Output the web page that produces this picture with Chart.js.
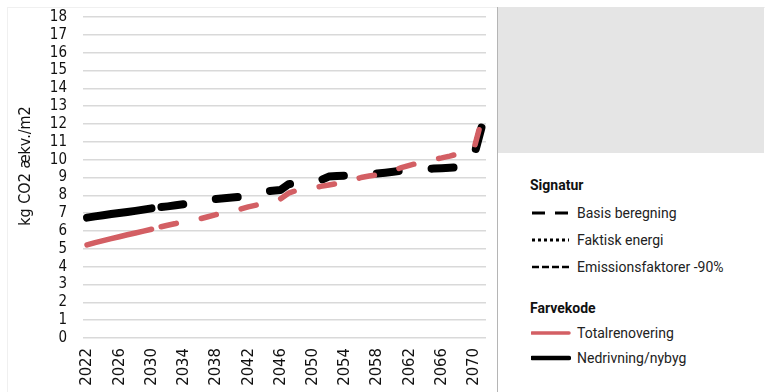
<!DOCTYPE html>
<html>
<head>
<meta charset="utf-8">
<script src="https://cdn.jsdelivr.net/npm/chart.js@4/dist/chart.umd.min.js"></script>
<style>
  body { margin: 0; background: #fff; width: 773px; height: 392px; overflow: hidden; position: relative; font-family: Roboto, sans-serif; }
  #frame { position: absolute; left: 7px; top: 7px; width: 757px; height: 400px; border-top: 1px solid #f0f0f0; border-left: 1px solid #f0f0f0; }
  #chart { position: absolute; left: 0; top: 0; }
  #divider { position: absolute; left: 497px; top: 7px; width: 1px; height: 385px; background: #b5b5b5; }
  #greyBox { position: absolute; left: 498px; top: 7px; width: 266px; height: 146px; background: #e5e5e5; }
  .head { position: absolute; left: 530px; font-size: 14px; font-weight: bold; color: #111; line-height: 16px; }
  .item { position: absolute; left: 577px; font-size: 14px; color: #222; line-height: 16px; }
  .sym { position: absolute; left: 531px; }
</style>
</head>
<body>
<div id="frame"></div>
<canvas id="chart" width="497" height="392"></canvas>
<div id="divider"></div>
<div id="greyBox"></div>

<div class="head" style="top:177px">Signatur</div>
<svg class="sym" style="top:207px" width="40" height="12"><line x1="1" y1="6" x2="38" y2="6" stroke="#000" stroke-width="3" stroke-dasharray="13 10"/></svg>
<div class="item" style="top:205px">Basis beregning</div>
<svg class="sym" style="top:234px" width="40" height="12"><line x1="1" y1="6" x2="38" y2="6" stroke="#000" stroke-width="3" stroke-dasharray="3 3"/></svg>
<div class="item" style="top:232px">Faktisk energi</div>
<svg class="sym" style="top:261px" width="40" height="12"><line x1="1" y1="6" x2="38" y2="6" stroke="#000" stroke-width="2.5" stroke-dasharray="7 3"/></svg>
<div class="item" style="top:259px">Emissionsfaktorer -90%</div>

<div class="head" style="top:300px">Farvekode</div>
<svg class="sym" style="top:327px" width="40" height="12"><line x1="1" y1="6" x2="38" y2="6" stroke="#d35f64" stroke-width="3.5" stroke-linecap="round"/></svg>
<div class="item" style="top:325px">Totalrenovering</div>
<svg class="sym" style="top:352px" width="40" height="12"><line x1="1" y1="6" x2="38" y2="6" stroke="#000" stroke-width="4.5" stroke-linecap="round"/></svg>
<div class="item" style="top:350px">Nedrivning/nybyg</div>

<script>
// years on the category axis
const years = [
  2022, 2023, 2024, 2025, 2026, 2027, 2028, 2029, 2030, 2031,
  2032, 2033, 2034, 2035, 2036, 2037, 2038, 2039, 2040, 2041,
  2042, 2043, 2044, 2045, 2046, 2047, 2048, 2049, 2050, 2051,
  2052, 2053, 2054, 2055, 2056, 2057, 2058, 2059, 2060, 2061,
  2062, 2063, 2064, 2065, 2066, 2067, 2068, 2069, 2070, 2071
];
// only every 4th year gets a label
const labelledYears = [2022, 2026, 2030, 2034, 2038, 2042, 2046, 2050, 2054, 2058, 2062, 2066, 2070];

// kg CO2 ækv./m2, accumulated
const totalrenovering = [
  5.22, 5.35, 5.46, 5.57, 5.68, 5.79, 5.89, 5.99, 6.10, 6.22,
  6.32, 6.42, 6.55, 6.62, 6.68, 6.80, 6.92, 7.04, 7.13, 7.22,
  7.35, 7.45, 7.55, 7.62, 7.80, 8.12, 8.28, 8.36, 8.42, 8.50,
  8.58, 8.66, 8.74, 8.84, 9.00, 9.08, 9.15, 9.25, 9.40, 9.55,
  9.68, 9.80, 9.92, 10.02, 10.10, 10.20, 10.32, 10.43, 10.60, 12.30
];
const nedrivning = [
  6.75, 6.82, 6.88, 6.95, 7.01, 7.07, 7.13, 7.20, 7.27, 7.33,
  7.38, 7.44, 7.50, 7.56, 7.65, 7.74, 7.80, 7.84, 7.88, 7.92,
  7.95, 8.10, 8.22, 8.26, 8.30, 8.62, 8.68, 8.70, 8.72, 8.85,
  9.05, 9.08, 9.10, 9.12, 9.15, 9.18, 9.22, 9.27, 9.32, 9.38,
  9.42, 9.45, 9.48, 9.50, 9.52, 9.55, 9.58, 9.61, 10.20, 11.90
];
const yTicks = [0, 18];

// the first 8 intervals (2022-2030) are drawn solid, the rest dashed
const solidUntil = 8;
const tickFont = "'Liberation Sans Narrow', 'DejaVu Sans Condensed', sans-serif";

function dashedAfter(dash, offset) {
  return {
    borderDash: c => c.p0DataIndex < solidUntil ? [] : dash,
    borderDashOffset: c => c.p0DataIndex < solidUntil ? 0 : offset
  };
}

const yTitle = {
  id: 'yTitle',
  afterDraw(chart) {
    const ctx = chart.ctx;
    ctx.save();
    ctx.translate(26, 166);
    ctx.rotate(-Math.PI / 2);
    ctx.font = "16px " + tickFont;
    ctx.fillStyle = '#111';
    ctx.textAlign = 'center';
    ctx.textBaseline = 'middle';
    ctx.fillText('kg CO2 ækv./m2', 0, 0);
    ctx.restore();
  }
};

new Chart(document.getElementById('chart').getContext('2d'), {
  type: 'line',
  data: {
    labels: years,
    datasets: [
      {
        label: 'Totalrenovering',
        data: totalrenovering,
        borderColor: '#d35f64',
        borderWidth: 5.5,
        borderCapStyle: 'round',
        borderJoinStyle: 'round',
        pointRadius: 0,
        tension: 0,
        segment: dashedAfter([15.5, 25.5], 31)
      },
      {
        label: 'Nedrivning/nybyg',
        data: nedrivning,
        borderColor: '#000',
        borderWidth: 8,
        borderCapStyle: 'round',
        borderJoinStyle: 'round',
        pointRadius: 0,
        tension: 0,
        segment: dashedAfter([22, 33], 45)
      }
    ]
  },
  options: {
    responsive: false,
    animation: false,
    layout: { padding: { top: 17, right: 11, left: 0, bottom: 0 } },
    plugins: { legend: { display: false }, tooltip: { enabled: false } },
    scales: {
      x: {
        offset: true,
        grid: { display: false, drawTicks: false },
        border: { display: false },
        ticks: {
          autoSkip: false,
          minRotation: 90,
          maxRotation: 90,
          padding: 10,
          color: '#111',
          font: { family: tickFont, size: 16.5 },
          callback: function (v, i) {
            const y = years[i];
            return labelledYears.includes(y) ? String(y) : '';
          }
        },
        afterFit(scale) {
          scale.height = 54;
          scale.paddingLeft = 0;
          scale.paddingRight = 0;
        }
      },
      y: {
        min: yTicks[0],
        max: yTicks[1],
        grid: { color: '#d9d9d9', lineWidth: 1.5, drawTicks: false },
        border: { display: false },
        ticks: {
          autoSkip: false,
          stepSize: 1,
          padding: 16,
          color: '#111',
          font: { family: tickFont, size: 15 }
        },
        afterFit(scale) {
          scale.width = 83;
          scale.paddingTop = 0;
          scale.paddingBottom = 0;
        }
      }
    }
  },
  plugins: [yTitle]
});
</script>
</body>
</html>
